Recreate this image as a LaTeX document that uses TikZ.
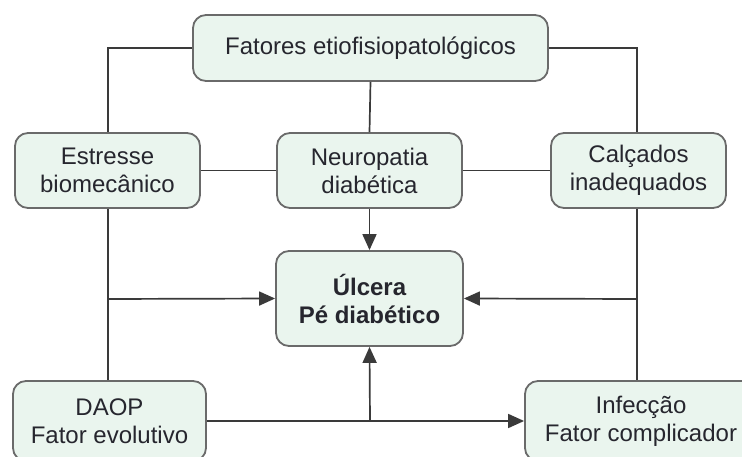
\documentclass[tikz,border=0pt]{standalone}
\usepackage{fontspec}
\setmainfont{Liberation Sans}
\usetikzlibrary{arrows.meta}
\definecolor{boxfill}{HTML}{EAF5EE}
\definecolor{boxline}{HTML}{6A6A6A}
\definecolor{conn}{HTML}{3A3A3A}
\definecolor{txt}{HTML}{26262E}
\tikzset{
  box/.style={draw=boxline, line width=1.8pt, fill=boxfill, rounded corners=13pt,
    align=center, text=txt, font=\fontsize{24}{28}\selectfont, inner sep=0pt},
  conline/.style={draw=conn, line width=1.7pt},
  arr/.style={conline, -{Triangle[length=16pt,width=14pt]}},
}
\begin{document}
\begin{tikzpicture}[x=1pt,y=-1pt]
\useasboundingbox (0,0) rectangle (742,457);
\begin{scope}
\clip (0,0) rectangle (742,457);
\node[box, minimum width=355pt, minimum height=66pt] (fat) at (370.5,48) {Fatores etiofisiopatológicos};
\node[box, minimum width=185pt, minimum height=75pt] (est) at (107.5,170.5) {Estresse\\biomecânico};
\node[box, minimum width=185pt, minimum height=75pt] (neu) at (369.5,170.5) {Neuropatia\\diabética};
\node[box, minimum width=175pt, minimum height=75pt] (cal) at (638.5,170.5) {Calçados\\inadequados};
\node[box, minimum width=187pt, minimum height=95pt, font=\fontsize{24}{28}\selectfont\bfseries] (ulc) at (369.5,298.5) {Úlcera\\Pé diabético};
\node[box, minimum width=193pt, minimum height=80pt] (dao) at (109.5,421) {DAOP\\Fator evolutivo};
\node[box, minimum width=232pt, minimum height=80pt] (inf) at (641,421) {Infecção\\Fator complicador};

\coordinate (lj) at (108,299);
\coordinate (rj) at (637,299);
\coordinate (bj) at (370,421);

% top connections
\draw[conline] (fat.west) -| (est.north -| lj);
\draw[conline] (fat.east) -| (cal.north -| rj);
\draw[conline] (fat.south) -- (neu.north);
\draw[conline] (est.east) -- (neu.west);
\draw[conline] (neu.east) -- (cal.west);
\draw[arr] (neu.south) -- (ulc.north);
% left branch
\draw[conline] (est.south -| lj) -- (dao.north -| lj);
\draw[arr] (lj) -- (ulc.west);
% right branch
\draw[conline] (cal.south -| rj) -- (inf.north -| rj);
\draw[arr] (rj) -- (ulc.east);
% bottom
\draw[arr] (dao.east) -- (inf.west);
\draw[arr] (bj) -- (ulc.south);
\end{scope}
\end{tikzpicture}
\end{document}
